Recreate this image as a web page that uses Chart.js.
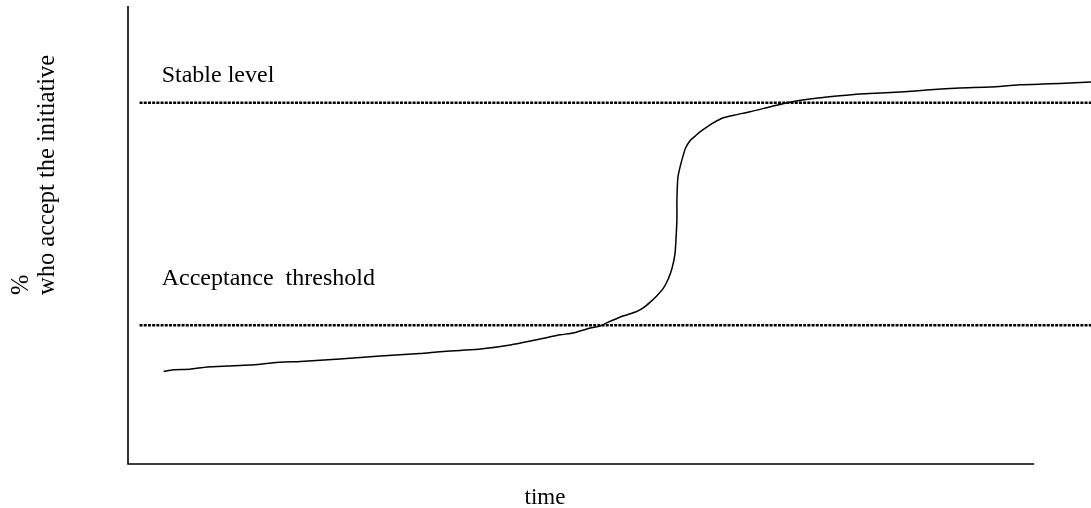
<!DOCTYPE html>
<html>
<head>
<meta charset="utf-8">
<script src="https://cdn.jsdelivr.net/npm/chart.js@4"></script>
<style>
  html, body { margin: 0; padding: 0; background: #fff; }
  #wrap { width: 1091px; height: 508px; position: relative; }
</style>
</head>
<body>
<div id="wrap"><canvas id="diffusion"></canvas></div>
<script>
// time (0-100) and % who accept
const timeValues = [3.7, 4.7, 6.4, 8.2, 10.3, 12.7, 15.1, 17.9, 22.0, 26.2, 30.3, 32.4, 34.5, 36.6, 39.7,
    42.8, 44.9, 46.2, 48.0, 49.0, 49.7, 51.4, 52.7, 53.5, 54.2, 54.9, 55.6, 56.1, 56.5, 56.8, 56.9, 57.0,
    57.0, 57.1, 57.3, 57.6, 57.9, 58.4, 58.9, 59.4, 60.4, 61.8, 63.0, 64.6, 66.7, 68.7, 70.8, 73.9,
    76.0, 78.1, 80.2, 83.3, 86.4, 89.5, 92.6, 95.7, 97.8, 100];
const acceptValues = [20.2, 20.6, 20.7, 21.2, 21.4, 21.6, 22.1, 22.4, 22.9, 23.6, 24.1, 24.5, 24.8, 25.1, 26.0,
    27.3, 28.2, 28.6, 29.7, 30.1, 30.8, 32.3, 33.2, 34.1, 35.3, 36.7, 38.4, 40.4, 42.8, 45.9, 48.9, 53.3,
    57.6, 62.5, 64.6, 67.0, 69.0, 70.7, 71.6, 72.5, 74.0, 75.6, 76.2, 76.9, 78.0, 79.0, 79.7, 80.4,
    80.8, 81.0, 81.2, 81.7, 82.1, 82.3, 82.8, 83.0, 83.2, 83.4];

const levelNames = ['Stable level', 'Acceptance  threshold'];
const levelValues = [78.9, 30.3];
const levelLabelY = [83.4, 39.1];
const levelStart = 1.2;
const levelEnd = 100;
const xAxisEnd = 94.1;

const yTitle = ['%', 'who accept the initiative'];
const xTitle = 'time';

const curve = timeValues.map((t, i) => ({ x: t, y: acceptValues[i] }));

const datasets = [{
    data: curve,
    borderColor: '#000',
    borderWidth: 1.5,
    pointRadius: 0,
    tension: 0.2,
    clip: false
}];
levelValues.forEach(v => {
    datasets.push({
        data: [{ x: levelStart, y: v }, { x: levelEnd, y: v }],
        borderColor: '#000',
        borderWidth: 2.5,
        borderDash: [3, 1.2],
        pointRadius: 0,
        clip: false
    });
});

const serif = '"Liberation Serif", "Times New Roman", serif';

const decorations = {
    id: 'decorations',
    afterDatasetsDraw(chart) {
        const { ctx, scales: { x, y } } = chart;
        ctx.save();
        // axis lines
        ctx.strokeStyle = '#000';
        ctx.lineWidth = 1.6;
        ctx.beginPath();
        ctx.moveTo(x.getPixelForValue(0), y.getPixelForValue(100));
        ctx.lineTo(x.getPixelForValue(0), y.getPixelForValue(0));
        ctx.lineTo(x.getPixelForValue(xAxisEnd), y.getPixelForValue(0));
        ctx.stroke();

        ctx.fillStyle = '#000';
        ctx.font = '24px ' + serif;
        ctx.textBaseline = 'alphabetic';
        ctx.textAlign = 'left';
        levelNames.forEach((name, i) => {
            ctx.fillText(name, x.getPixelForValue(3.5), y.getPixelForValue(levelLabelY[i]));
        });

        ctx.textAlign = 'center';
        ctx.font = '23px ' + serif;
        ctx.fillText(xTitle, 545, 504);

        ctx.textAlign = 'left';
        ctx.font = '24.5px ' + serif;
        ctx.translate(0, 295);
        ctx.rotate(-Math.PI / 2);
        ctx.fillText(yTitle[0], 0, 28);
        ctx.fillText(yTitle[1], 0, 54);
        ctx.restore();
    }
};

new Chart(document.getElementById('diffusion'), {
    type: 'line',
    data: { datasets },
    options: {
        responsive: true,
        maintainAspectRatio: false,
        animation: false,
        layout: { padding: { left: 128, right: 0, top: 6, bottom: 44 } },
        plugins: { legend: { display: false }, tooltip: { enabled: false } },
        scales: {
            x: { type: 'linear', min: 0, max: 100, display: false },
            y: { min: 0, max: 100, display: false }
        }
    },
    plugins: [decorations]
});
</script>
</body>
</html>
